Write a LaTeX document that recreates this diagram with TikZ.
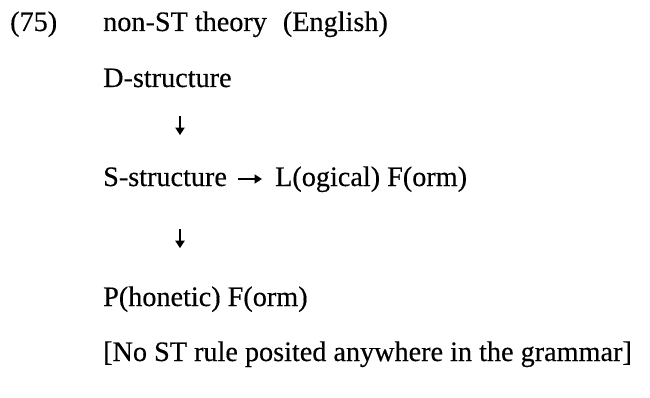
\documentclass[tikz,border=0pt]{standalone}
\usepackage{fontspec}
\setmainfont{Liberation Serif}[FakeBold=0.35]
\usetikzlibrary{arrows.meta}
\tikzset{
  txt/.style={inner sep=0pt, anchor=base west, font=\fontsize{28.2}{34}\selectfont},
  arr/.style={line width=2pt, -{Triangle[length=7.5pt,width=9pt]}}
}
\begin{document}
\begin{tikzpicture}[x=1pt,y=-1pt]
\useasboundingbox (0,0) rectangle (650,398);
\node[txt] (num) at (10,31) {(75)};
\node[txt] (title) at (103,31) {non-ST theory\hspace{16pt}(English)};
\node[txt] (D) at (103,87) {D-structure};
\node[txt] (S) at (103,186) {S-structure};
\node[txt] (LF) at (275,186) {L(ogical) F(orm)};
\node[txt] (PF) at (103,306) {P(honetic) F(orm)};
\node[txt] (note) at (103,361) {[No ST rule posited anywhere in the grammar]};
\draw[arr, shorten <=29pt, shorten >=32pt] ([xshift=77pt]D.south west) -- ([xshift=77pt]S.north west);
\draw[arr, shorten <=43pt, shorten >=38pt] ([xshift=77pt]S.south west) -- ([xshift=77pt]PF.north west);
\draw[arr, shorten <=11pt, shorten >=13pt] ([yshift=7pt]S.base east) -- ([yshift=7pt]LF.base west);
\end{tikzpicture}
\end{document}
